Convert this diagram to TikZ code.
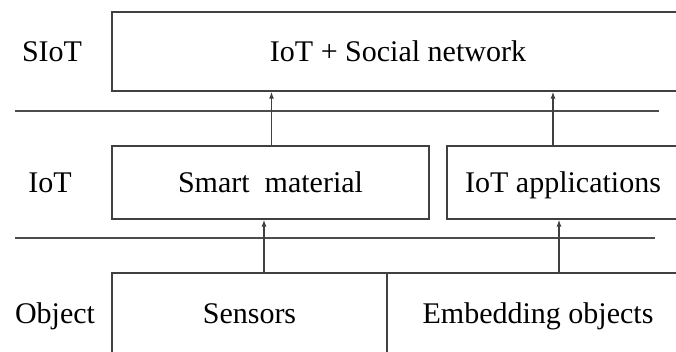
\documentclass[tikz,border=0pt]{standalone}
\usepackage{fontspec}
\setmainfont{Liberation Serif}
\usetikzlibrary{arrows.meta}

\begin{document}
\begin{tikzpicture}[x=1pt,y=1pt,yscale=-1,xscale=1,
    layerbox/.style={draw=black!75, line width=1.3pt, rectangle, inner sep=0pt, font=\fontsize{30}{36}\selectfont, text height=20pt, text depth=0pt},
    layername/.style={inner sep=0pt, font=\fontsize{30}{36}\selectfont, text height=20pt, text depth=0pt},
    uparrow/.style={draw=black!75, line width=1.3pt, -{Latex[length=7pt,width=5pt]}},
    sepline/.style={draw=black!70, line width=1.3pt}]
    \useasboundingbox (0,0) rectangle (676,351);
    \clip (0,0) rectangle (676,351);

    %Shape: Rectangle [SIoT layer]
    \node [layerbox, minimum width=572pt, minimum height=79pt] (social) at (398,51.5) {IoT + Social network};
    %Shape: Rectangle [IoT layer]
    \node [layerbox, minimum width=317pt, minimum height=73pt] (smart) at (270.5,182.5) {Smart\ \ material};
    \node [layerbox, minimum width=232pt, minimum height=73pt] (apps) at (563,182.5) {IoT applications};
    %Shape: Rectangle [Object layer]
    \node [layerbox, minimum width=275pt, minimum height=80pt] (sensors) at (249.5,313) {Sensors};
    \node [layerbox, minimum width=302pt, minimum height=80pt] (embed) at (538,313) {Embedding objects};

    % Text Node
    \node [layername] (siot) at (52,51.5) {SIoT};
    % Text Node
    \node [layername] (iot) at (50,182.5) {IoT};
    % Text Node
    \node [layername] (object) at (55,313) {Object};

    %Straight Lines [separators]
    \draw [sepline] (15,111) -- (659,111);
    \draw [sepline] (15,238) -- (655,238);

    %Arrows
    \coordinate (smarttop) at ([xshift=1pt]smart.north);
    \coordinate (appstop) at ([xshift=-10pt]apps.north);
    \coordinate (sensorstop) at ([xshift=14.5pt]sensors.north);
    \coordinate (embedtop) at ([xshift=21pt]embed.north);
    \draw [uparrow] (smarttop) -- (smarttop |- social.south);
    \draw [uparrow] (appstop) -- (appstop |- social.south);
    \draw [uparrow] (sensorstop) -- (sensorstop |- smart.south);
    \draw [uparrow] (embedtop) -- (embedtop |- apps.south);

\end{tikzpicture}
\end{document}
